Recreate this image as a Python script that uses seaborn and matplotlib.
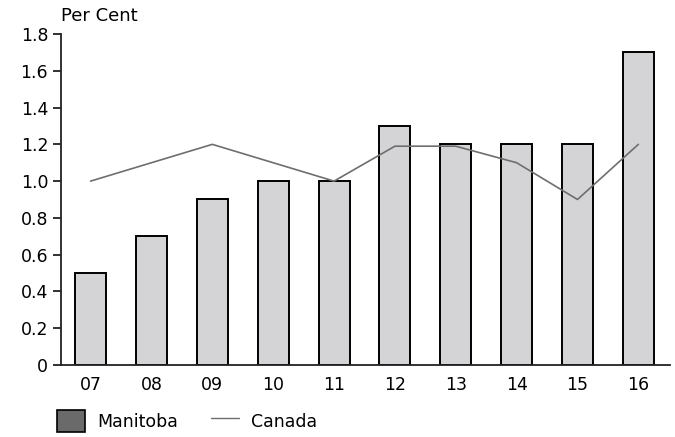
import matplotlib
matplotlib.use("Agg")
import matplotlib.pyplot as plt
from matplotlib.patches import Patch
from matplotlib.lines import Line2D
import numpy as np
import pandas as pd
import seaborn as sns

years = ["07", "08", "09", "10", "11", "12", "13", "14", "15", "16"]
manitoba = [0.5, 0.7, 0.9, 1.0, 1.0, 1.3, 1.2, 1.2, 1.2, 1.7]
canada = [1.0, 1.1, 1.2, 1.1, 1.0, 1.19, 1.19, 1.1, 0.9, 1.2]
y_ticks = [0, 0.2, 0.4, 0.6, 0.8, 1.0, 1.2, 1.4, 1.6, 1.8]
y_tick_labels = ["0", "0.2", "0.4", "0.6", "0.8", "1.0", "1.2", "1.4", "1.6", "1.8"]

sns.set_theme(style="white")
plt.rcParams["font.family"] = ["DejaVu Sans"]
plt.rcParams["text.color"] = "black"
plt.rcParams["xtick.color"] = "black"
plt.rcParams["ytick.color"] = "black"

df = pd.DataFrame({"year": years, "Manitoba": manitoba, "Canada": canada})

fig = plt.figure(figsize=(6.75, 4.37), dpi=100)
ax = fig.add_axes([0.09, 0.165, 0.9026, 0.757])

bar_fill = "#d4d4d6"
line_col = "#6e6e6e"

sns.barplot(data=df, x="year", y="Manitoba", color=bar_fill, width=0.51,
            edgecolor="black", linewidth=1.4, saturation=1, ax=ax)
sns.lineplot(x=np.arange(len(years)), y=df["Canada"], color=line_col,
             linewidth=1.2, ax=ax)

ax.set_xlim(-0.49, len(years) - 0.48)
ax.set_ylim(0, 1.8)
ax.set_yticks(y_ticks)
ax.set_yticklabels(y_tick_labels)
ax.set_xlabel("")
ax.set_ylabel("")

for side in ["top", "right"]:
    ax.spines[side].set_visible(False)
for side in ["left", "bottom"]:
    ax.spines[side].set_color("#222222")
    ax.spines[side].set_linewidth(1.3)

ax.tick_params(axis="y", which="major", direction="out", length=6, width=1.3,
               color="#222222", labelcolor="black", labelsize=12.5, pad=3,
               left=True)
ax.tick_params(axis="x", which="major", length=0, labelcolor="black",
               labelsize=12.5, pad=8)

fig.text(0.09, 0.942, "Per Cent", fontsize=13, ha="left", va="bottom",
         color="black")

handles = [
    Patch(facecolor="#6a6a6a", edgecolor="black", linewidth=1.2),
    Line2D([0], [0], color=line_col, linewidth=1.0),
]
fig.legend(handles, ["Manitoba", "Canada"], loc="lower left",
           bbox_to_anchor=(0.062, -0.025), ncol=2, frameon=False,
           fontsize=12.5, handlelength=1.6, handleheight=1.6,
           handletextpad=0.7, columnspacing=1.9, labelcolor="black")

fig.savefig("out.png", dpi=100)
